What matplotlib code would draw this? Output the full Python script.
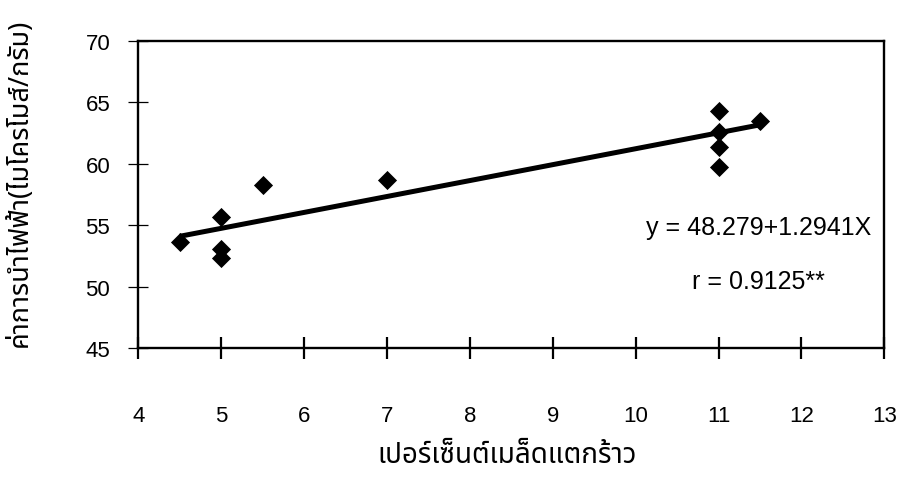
import matplotlib
matplotlib.use("Agg")
import matplotlib.pyplot as plt
from matplotlib import font_manager
from matplotlib.ft2font import FT2Font
import numpy as np

# Seed crack percentage vs. electrical conductivity
crack_pct = [4.5, 5, 5, 5, 5.5, 7, 11, 11, 11, 11, 11.5]
conductivity = [53.6, 55.7, 53.1, 52.3, 58.3, 58.7, 64.3, 62.6, 61.4, 59.7, 63.5]

# Fitted regression y = a + bX
intercept = 48.279
slope = 1.2941
r_value = "0.9125**"

x_ticks = [4, 5, 6, 7, 8, 9, 10, 11, 12, 13]
y_ticks = [45, 50, 55, 60, 65, 70]

x_label = "เปอร์เซ็นต์เมล็ดแตกร้าว"
y_label = "ค่าการนำไฟฟ้า(ไมโครโมส์/กรัม)"


def thai_font():
    """Return the name of an installed family that has Thai glyphs."""
    preferred = ["Noto Sans Thai", "Noto Sans Thai Looped", "Loma", "Garuda",
                 "Norasi", "Kinnari", "Sarabun", "TH Sarabun New", "Tlwg Typo"]
    found = {}
    for f in font_manager.fontManager.ttflist:
        try:
            cmap = FT2Font(f.fname).get_charmap()
        except Exception:
            continue
        if ord("ก") in cmap and ord("ร") in cmap:
            found.setdefault(f.name, f.fname)
    for name in preferred:
        if name in found:
            return name
    if found:
        return sorted(found)[0]
    return "DejaVu Sans"


num_font = "Liberation Sans"
th_font = thai_font()

fig = plt.figure(figsize=(9.02, 4.89), dpi=100)
ax = fig.add_axes([138.3 / 902, 1 - 349.3 / 489, (884.3 - 138.3) / 902, (349.3 - 41.7) / 489])

ax.set_xlim(4, 13)
ax.set_ylim(45, 70)

ax.scatter(crack_pct, conductivity, marker="D", s=95, color="black", zorder=3, linewidths=0)

fit_x = np.array([min(crack_pct), max(crack_pct)])
ax.plot(fit_x, intercept + slope * fit_x, color="black", lw=3.6, solid_capstyle="butt", zorder=2)

ax.set_xticks(x_ticks)
ax.set_yticks(y_ticks)
ax.tick_params(axis="x", direction="inout", length=16, width=1.6, pad=33, labelsize=16)
ax.tick_params(axis="y", direction="inout", length=14.5, width=0.9, pad=13, labelsize=16)
for lab in ax.get_xticklabels() + ax.get_yticklabels():
    lab.set_fontfamily(num_font)

for side in ["left", "right", "top", "bottom"]:
    ax.spines[side].set_linewidth(1.7)
    ax.spines[side].set_color("black")

ax.text(0.831, 0.394, f"y = {intercept}+{slope}X", transform=ax.transAxes,
        ha="center", va="center", fontsize=18, family=num_font)
ax.text(0.831, 0.219, f"r = {r_value}", transform=ax.transAxes,
        ha="center", va="center", fontsize=18, family=num_font)

fig.text(507 / 902, 1 - 456 / 489, x_label, ha="center", va="center",
         fontsize=20, family=[th_font, "DejaVu Sans"])
fig.text(20 / 902, 1 - 183 / 489, y_label, ha="center", va="center", rotation=90,
         fontsize=19.5, family=[th_font, "DejaVu Sans"])

fig.savefig("out.png", dpi=100, facecolor="white")
